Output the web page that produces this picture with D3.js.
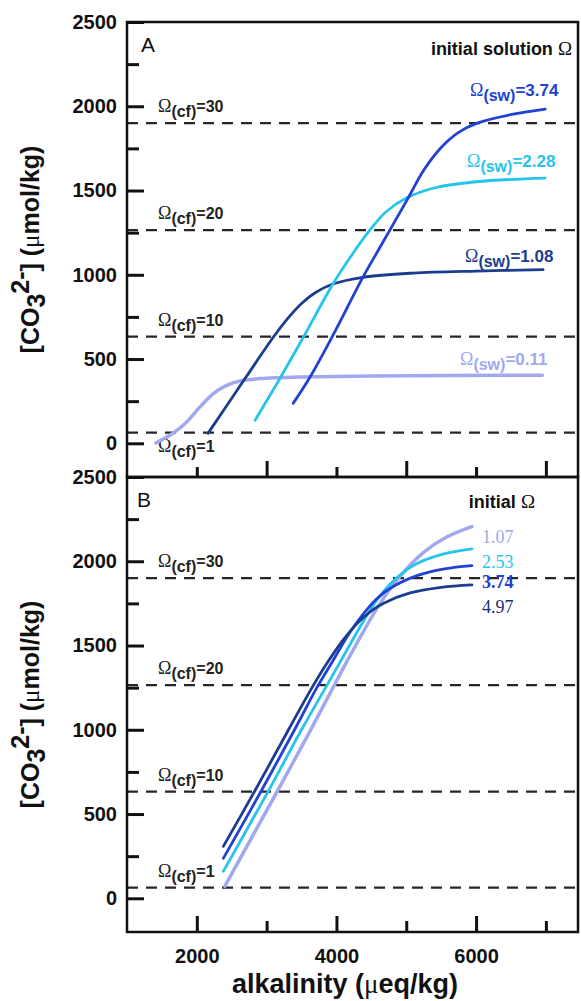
<!DOCTYPE html>
<html><head><meta charset="utf-8">
<script src="https://cdn.jsdelivr.net/npm/d3@7"></script>
<style>body{margin:0;background:#fff}</style>
</head><body><svg id="c" width="581" height="1001"></svg>
<script>
// ---------- data ----------
const xTicksMajor = [2000, 4000, 6000];
const xTicksMinor = [3000, 5000, 7000];
const yTicksMajor = [0, 500, 1000, 1500, 2000, 2500];
const yTicksMinor = [250, 750, 1250, 1750, 2250];
const omegaCfLevels = ["30", "20", "10", "1"];
const omegaCfValues = [1900, 1265, 633, 63];

// Panel A: initial solution Ω(sw)
const seriesANames = ["3.74", "2.28", "1.08", "0.11"];
const a374 = [[3380,237],[3620,392],[3950,641],[4380,986],[4620,1160],[5010,1443],[5250,1620],[5500,1755],[5750,1845],[6015,1900],[6530,1953],[6990,1983]];
const a228 = [[2834,137],[3192,386],[3500,610],[3950,945],[4200,1105],[4450,1250],[4700,1370],[5000,1455],[5400,1515],[6000,1552],[6990,1574]];
const a108 = [[2160,59],[2700,390],[3100,632],[3300,740],[3500,830],[3700,895],[3950,945],[4380,985],[5100,1010],[6000,1022],[6960,1030]];
const a011 = [[1415,2],[1663,61],[1855,127],[2046,216],[2237,295],[2428,344],[2619,370],[2905,384],[3478,394],[4500,399],[6950,404]];

// Panel B: initial Ω
const seriesBNames = ["1.07", "2.53", "3.74", "4.97"];
const b107 = [[2400,71],[3150,633],[3600,975],[3966,1262],[4195,1440],[4625,1750],[4910,1910],[5240,2050],[5585,2145],[5940,2206]];
const b253 = [[2380,160],[3020,633],[3500,1000],[3865,1265],[4050,1400],[4380,1640],[4580,1770],[4770,1865],[5100,1975],[5485,2038],[5940,2074]];
const b374 = [[2380,237],[2920,635],[3400,1000],[3720,1250],[3950,1410],[4180,1570],[4380,1685],[4570,1775],[4770,1840],[5155,1915],[5550,1955],[5940,1974]];
const b497 = [[2380,308],[2834,640],[3300,990],[3650,1250],[3880,1405],[4100,1535],[4295,1630],[4500,1705],[4670,1750],[5055,1812],[5500,1845],[5940,1860]];

// ---------- styling / layout ----------
const C = {navy:"#1c3d8e", blue:"#2141d4", cyan:"#25c4ee", lav:"#a2a8ee"};
const svg = d3.select("#c");
const L = 127, R = 578;
const panels = [
  {top:22, bottom:477, letter:"A"},
  {top:477, bottom:932, letter:"B"}
];
const x = d3.scaleLinear().domain([1000, 7460]).range([L, R]);
panels.forEach(p => p.y = d3.scaleLinear().domain([-200, 2500]).range([p.bottom, p.top]));

const SANS = "Arial, 'Liberation Sans', Helvetica, sans-serif";
const SERIF = "'Times New Roman', 'Liberation Serif', serif";

function styleAxis(g){
  g.select(".domain").remove();
  g.selectAll(".tick line").attr("stroke","#111").attr("stroke-width",3);
  g.selectAll(".tick text").attr("fill","#111").style("font-family",SANS).style("font-weight","bold").style("font-size","20px");
}

panels.forEach((p, i) => {
  const y = p.y;
  // y axes
  svg.append("g").attr("transform",`translate(${L},0)`)
    .call(d3.axisLeft(y).tickValues(yTicksMajor).tickSize(-17).tickSizeOuter(0).tickPadding(10).tickFormat(d3.format("d")))
    .call(styleAxis);
  svg.append("g").attr("transform",`translate(${L},0)`)
    .call(d3.axisLeft(y).tickValues(yTicksMinor).tickSize(-12).tickSizeOuter(0).tickFormat(""))
    .call(styleAxis);
  // x axes
  const majLen = i === 0 ? 10 : 16, minLen = i === 0 ? 16 : 11;
  svg.append("g").attr("transform",`translate(0,${p.bottom})`)
    .call(d3.axisBottom(x).tickValues(xTicksMajor).tickSize(-majLen).tickSizeOuter(0).tickPadding(17)
      .tickFormat(i === 0 ? "" : d3.format("d")))
    .call(styleAxis);
  svg.append("g").attr("transform",`translate(0,${p.bottom})`)
    .call(d3.axisBottom(x).tickValues(xTicksMinor).tickSize(-minLen).tickSizeOuter(0).tickFormat(""))
    .call(styleAxis);

  // dashed Ω(cf) lines
  svg.append("g").selectAll("line").data(omegaCfValues).join("line")
    .attr("x1", L).attr("x2", R).attr("y1", d => y(d)).attr("y2", d => y(d))
    .attr("stroke","#262626").attr("stroke-width",2.2).attr("stroke-dasharray","11,8");

  // Ω(cf) labels
  omegaCfLevels.forEach((lev, k) => {
    const v = omegaCfValues[k];
    const below = (i === 0 && lev === "1");
    const ty = y(v) + (below ? 19 : -11);
    const t = svg.append("text").attr("x", 158).attr("y", ty).attr("fill","#222");
    t.append("tspan").text("Ω").style("font-family",SERIF).style("font-size","18px");
    t.append("tspan").text("(cf)").attr("dy",5).style("font-family",SANS).style("font-weight","bold").style("font-size","16px");
    t.append("tspan").text("=" + lev).attr("dy",-5).style("font-family",SANS).style("font-weight","bold").style("font-size","16px");
  });

  // frame
  svg.append("rect").attr("x",L).attr("y",p.top).attr("width",R-L).attr("height",p.bottom-p.top)
    .attr("fill","none").attr("stroke","#111").attr("stroke-width",2.5);

  // letter
  svg.append("text").attr("x", i===0?141:137).attr("y", p.top + 30).text(p.letter)
    .style("font-family",SANS).style("font-size","21px").attr("fill","#111");

  // y title
  const cy = (p.top + p.bottom) / 2;
  const yt = svg.append("text").attr("transform",`translate(39,${cy}) rotate(-90)`)
    .attr("text-anchor","middle").attr("fill","#111")
    .style("font-family",SANS).style("font-weight","bold").style("font-size","25px");
  yt.append("tspan").text("[CO");
  yt.append("tspan").text("3").attr("dy",6);
  yt.append("tspan").text("2").attr("dy",-16);
  yt.append("tspan").text("-").attr("dy",0);
  yt.append("tspan").text("] (").attr("dy",10);
  yt.append("tspan").text("μ").style("font-family",SERIF).style("font-weight","normal");
  yt.append("tspan").text("mol/kg)");
});

// ---------- curves ----------
const curve = d3.curveCatmullRom.alpha(0.5);
const lineA = d3.line().x(d => x(d[0])).y(d => panels[0].y(d[1])).curve(curve);
const lineB = d3.line().x(d => x(d[0])).y(d => panels[1].y(d[1])).curve(curve);

const seriesA = [
  {name:seriesANames[3], data:a011, color:C.lav, w:3.5},
  {name:seriesANames[2], data:a108, color:C.navy, w:2.8},
  {name:seriesANames[1], data:a228, color:C.cyan, w:2.8},
  {name:seriesANames[0], data:a374, color:C.blue, w:2.8}
];
svg.append("g").selectAll("path").data(seriesA).join("path")
  .attr("d", d => lineA(d.data)).attr("fill","none")
  .attr("stroke", d => d.color).attr("stroke-width", d => d.w).attr("stroke-linecap","round");

const seriesB = [
  {name:seriesBNames[0], data:b107, color:C.lav, w:3.5},
  {name:seriesBNames[1], data:b253, color:C.cyan, w:2.8},
  {name:seriesBNames[2], data:b374, color:C.blue, w:2.8},
  {name:seriesBNames[3], data:b497, color:C.navy, w:2.8}
];
svg.append("g").selectAll("path").data(seriesB).join("path")
  .attr("d", d => lineB(d.data)).attr("fill","none")
  .attr("stroke", d => d.color).attr("stroke-width", d => d.w).attr("stroke-linecap","round");

// ---------- panel A labels ----------
svg.append("text").attr("x",572).attr("y",55).attr("text-anchor","end").attr("fill","#111")
  .call(t => {
    t.append("tspan").text("initial solution ").style("font-family",SANS).style("font-weight","bold").style("font-size","18px");
    t.append("tspan").text("Ω").style("font-family",SERIF).style("font-size","19px");
  });
const swLabelPos = [[470,96],[467,167],[465,262],[460,365]];
const swColors = [C.blue, C.cyan, C.navy, C.lav];
seriesANames.forEach((n, k) => {
  const t = svg.append("text").attr("x",swLabelPos[k][0]).attr("y",swLabelPos[k][1]).attr("fill",swColors[k]);
  t.append("tspan").text("Ω").style("font-family",SERIF).style("font-size","18px");
  t.append("tspan").text("(sw)").attr("dy",5).style("font-family",SANS).style("font-weight","bold").style("font-size","16px");
  t.append("tspan").text("=" + n).attr("dy",-5).style("font-family",SANS).style("font-weight","bold").style("font-size","17px");
});

// ---------- panel B labels ----------
svg.append("text").attr("x",535).attr("y",508).attr("text-anchor","end").attr("fill","#111")
  .call(t => {
    t.append("tspan").text("initial ").style("font-family",SANS).style("font-weight","bold").style("font-size","18px");
    t.append("tspan").text("Ω").style("font-family",SERIF).style("font-size","19px");
  });
const bLabelY = [543, 568, 588, 613];
const bColors = [C.lav, C.cyan, C.blue, C.navy];
seriesBNames.forEach((n, k) => {
  svg.append("text").attr("x",482).attr("y",bLabelY[k]).text(n).attr("fill", k===3 ? "#1a2f7a" : bColors[k])
    .style("font-family",SERIF).style("font-size","18px").style("font-weight", k===2 ? "bold" : "normal");
});

// ---------- x title ----------
const xt = svg.append("text").attr("x",345).attr("y",993).attr("text-anchor","middle").attr("fill","#111")
  .style("font-family",SANS).style("font-weight","bold").style("font-size","27px");
xt.append("tspan").text("alkalinity (");
xt.append("tspan").text("μ").style("font-family",SERIF).style("font-weight","normal");
xt.append("tspan").text("eq/kg)");
</script>
</body></html>
